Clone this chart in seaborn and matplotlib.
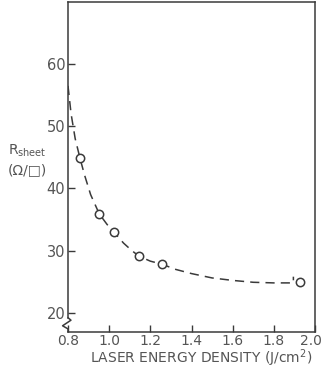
import matplotlib
matplotlib.use("Agg")
import matplotlib.pyplot as plt
import matplotlib.transforms as mtransforms
import seaborn as sns
import pandas as pd

# measured points
energy = [0.858, 0.952, 1.022, 1.145, 1.258, 1.927]
rsheet = [44.9, 35.9, 33.0, 29.1, 27.8, 25.0]

# dashed guide curve
curve_x = [0.800, 0.815, 0.835, 0.858, 0.88, 0.91, 0.952, 0.99, 1.022, 1.07, 1.11, 1.145,
           1.20, 1.258, 1.32, 1.40, 1.50, 1.60, 1.70, 1.80, 1.87, 1.895, 1.895]
curve_y = [56.5, 52.0, 48.0, 44.9, 42.2, 39.0, 35.9, 34.2, 33.0, 31.2, 30.0, 29.1,
           28.3, 27.8, 27.0, 26.3, 25.6, 25.2, 24.9, 24.8, 24.8, 24.8, 25.8]

xticks = [0.8, 1.0, 1.2, 1.4, 1.6, 1.8, 2.0]
xticklabels = ["0.8", "1.0", "1.2", "1.4", "1.6", "1.8", "2.0"]
yticks = [20, 30, 40, 50, 60]
yticklabels = ["20", "30", "40", "50", "60"]

sns.set_style("ticks")
plt.rcParams['font.family'] = ['DejaVu Sans']

LINE = "#3a3a3a"
TEXT = "#555555"

fig = plt.figure(figsize=(3.21, 3.70), dpi=100)
ax = fig.add_axes([68/321, 1-332/370, (315-68)/321, (332-2)/370])

cdf = pd.DataFrame({"x": curve_x, "y": curve_y})
pdf = pd.DataFrame({"x": energy, "y": rsheet})
sns.lineplot(data=cdf, x="x", y="y", ax=ax, sort=False, color=LINE,
             linewidth=1.1, linestyle=(0, (6, 4)), estimator=None)
sns.scatterplot(data=pdf, x="x", y="y", ax=ax, marker="o", s=36,
                facecolor="white", edgecolor=LINE, linewidth=1.1, zorder=5)

ax.set_xlim(0.8, 2.0)
ax.set_ylim(16.9, 70)
ax.set_xticks(xticks)
ax.set_xticklabels(xticklabels)
ax.set_yticks(yticks)
ax.set_yticklabels(yticklabels)
ax.tick_params(direction="in", length=5, width=1.0, color=LINE,
               labelcolor=TEXT, labelsize=10.5, pad=2)
ax.tick_params(axis="x", labelsize=10, pad=1.5)

# nudge the last x label so it stays inside the canvas
last = ax.get_xticklabels()[-1]
last.set_transform(last.get_transform() +
                   mtransforms.ScaledTranslation(-4/100, 0, fig.dpi_scale_trans))

for s in ax.spines.values():
    s.set_color(LINE)
    s.set_linewidth(1.1)
ax.spines["left"].set_bounds(19.2, 70)

# axis break zigzag
trans = ax.get_yaxis_transform()
ax.plot([0, 0.012, -0.022, 0.0, 0.0], [19.2, 18.8, 17.9, 17.4, 16.9],
        transform=trans, color=LINE, linewidth=1.1, clip_on=False)

ax.set_xlabel("")
ax.set_ylabel("")
fig.text(201/321, 1-358/370, "LASER ENERGY DENSITY (J/cm$^2$)", color=TEXT,
         fontsize=10.0, ha="center", va="center")
fig.text(27/321, 1-160/370, "R$_{\\mathregular{sheet}}$\n(\u03a9/\u25a1)", color=TEXT,
         fontsize=10, ha="center", va="center", linespacing=1.4)

fig.savefig("out.png", dpi=100, facecolor="white")
